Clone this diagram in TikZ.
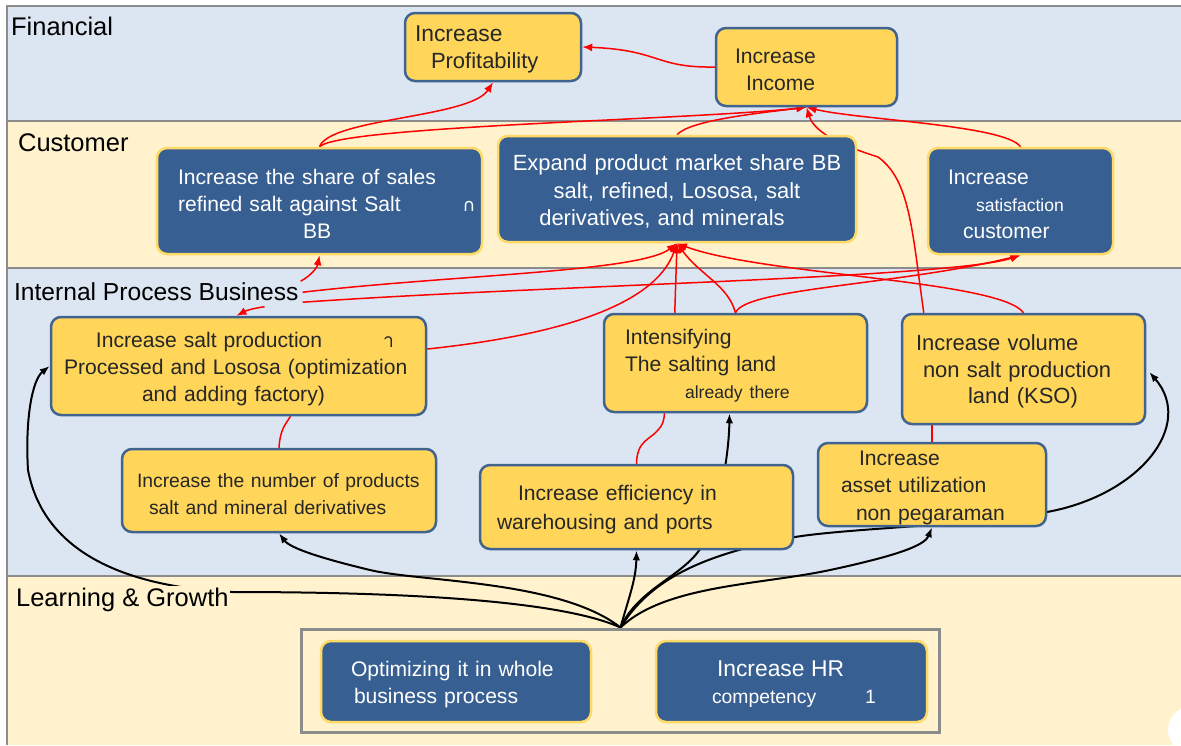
\documentclass[tikz,border=0pt]{standalone}
\usepackage{fontspec}
\setmainfont{Liberation Sans}
\newfontfamily\thaifont[Script=Thai]{Loma}
\newfontfamily\dvsans{DejaVu Sans}
\usetikzlibrary{arrows.meta,calc}
\definecolor{bandblue}{HTML}{DCE6F2}
\definecolor{bandyellow}{HTML}{FFF2CC}
\definecolor{goalyellow}{HTML}{FFD65A}
\definecolor{goalblue}{HTML}{375F92}
\definecolor{rimblue}{HTML}{41638F}
\definecolor{rimyellow}{HTML}{FFD966}
\definecolor{rulegray}{HTML}{8C8C8C}
\pgfdeclarelayer{bands}\pgfdeclarelayer{links}\pgfsetlayers{bands,links,main}
\newlength\pxunit \setlength\pxunit{0.2mm}
\newcommand\hx[1]{\hspace*{#1\pxunit}}
\tikzset{wh/.style 2 args={minimum width=#1*0.2mm,text width=#1*0.2mm,minimum height=#2*0.2mm},
ybox/.style={draw=rimblue,fill=goalyellow,line width=0.5mm,rounded corners=2mm,inner sep=0pt,align=left,text=black!85,font=\fontsize{12}{15.4}\selectfont,execute at begin node={\rule{0pt}{12pt}}},
bbox/.style={draw=rimyellow,fill=goalblue,line width=0.5mm,rounded corners=2mm,inner sep=0pt,align=left,text=white,font=\fontsize{12}{15.4}\selectfont,execute at begin node={\rule{0pt}{12pt}}},
lane/.style={anchor=base west,inner sep=1pt,font=\fontsize{14.5}{17}\selectfont},
rline/.style={draw=red,line width=0.3mm},
rlink/.style={rline,-{Latex[length=2mm,width=1.6mm]}},
blink/.style={draw=black,line width=0.4mm,-{Latex[length=2mm,width=1.5mm]}}}

\begin{document}
\begin{tikzpicture}[x=0.2mm,y=-0.2mm]
\useasboundingbox (0,0) rectangle (1181,745);
\begin{pgfonlayer}{bands}
\fill[bandblue] (7,6) rectangle (1181,121);
\fill[bandyellow] (7,121) rectangle (1181,268);
\fill[bandblue] (7,268) rectangle (1181,576);
\fill[bandyellow] (7,576) rectangle (1181,745);
\draw[rulegray,line width=0.4mm] (1181,6) -- (7,6) -- (7,745) (7,121) -- (1181,121) (7,268) -- (1181,268) (7,576) -- (1181,576);
\end{pgfonlayer}

\node[lane] (fin) at (9,35) {Financial};
\node[lane] (cus) at (16,151) {Customer};
\node[lane,fill=bandblue,font=\fontsize{14}{17}\selectfont] (ipb) at (12,300) {Internal Process Business};
\node[lane,fill=bandyellow] (lng) at (14,606) {Learning \& Growth};

\node[ybox,wh={176}{68},font=\fontsize{12.5}{15.4}\selectfont] (prof) at (493,47) {\hx{10}{\fontsize{13}{15}\selectfont Increase}\\\hx{26}Profitability};
\node[ybox,wh={181}{78}] (inc) at (806.5,67) {\hx{19}Increase\\\hx{30}Income};

\node[bbox,wh={325}{106}] (c1) at (319.5,201) {\hx{21}Increase the share of sales\\\hx{21}refined salt against Salt\rlap{\hspace{62\pxunit}{\dvsans\fontsize{10}{12}\selectfont ∩}}\\\hx{146}BB};
\node[bbox,wh={358}{106},align=center,font=\fontsize{12.5}{15.8}\selectfont] (c2) at (677,189) {Expand product market share BB\\salt, refined, Lososa, salt\hx{14}\\derivatives, and minerals\hx{30}};
\node[bbox,wh={185}{106}] (c3) at (1020.5,201) {\hx{20}Increase\\\hx{48}{\fontsize{10}{12}\selectfont satisfaction}\\\hx{35}customer};

\node[ybox,wh={375}{98}] (b1) at (238.5,366) {\hx{45}Increase salt production\rlap{\hspace{61\pxunit}{\thaifont\fontsize{11}{12}\selectfont า}}\\\hx{13}Processed and Lososa (optimization\\\hx{91}and adding factory)};
\node[ybox,wh={314}{83},font=\fontsize{11}{15.4}\selectfont] (b2) at (279,490.5) {\hx{15}Increase the number of products\\\hx{27}salt and mineral derivatives};
\node[ybox,wh={263}{98}] (b3) at (735.5,363) {\hx{21}Intensifying\\\hx{21}The salting land\\\hx{81}{\fontsize{10}{12}\selectfont already there}};
\node[ybox,wh={243}{110},font=\fontsize{12.5}{15.2}\selectfont] (b4) at (1023.5,369) {\hx{14}Increase volume\\\hx{21}non salt production\\\hx{66}land (KSO)};
\node[ybox,wh={313}{84},font=\fontsize{12}{16.4}\selectfont] (b5) at (636.5,507) {\hx{38}Increase efficiency in\\\hx{17}warehousing and ports};
\node[ybox,wh={228}{83},font=\fontsize{12}{15.8}\selectfont] (b6) at (932,484.5) {\hx{41}Increase\\\hx{23}asset utilization\\\hx{38}non pegaraman};

\node[draw=rulegray,line width=0.6mm,wh={627}{103}] (lg) at (620.5,680.5) {};
\node[bbox,wh={270}{81}] (l1) at (456,681.5) {\hx{30}Optimizing it in whole\\\hx{33}business process};
\node[bbox,wh={271}{81},font=\fontsize{11}{15.4}\selectfont] (l2) at (791.5,681.5) {\hx{61}{\fontsize{13}{15}\selectfont Increase HR}\\\hx{56}competency\rlap{\hspace{49\pxunit}1}};
\coordinate (src) at (lg.north);

\begin{pgfonlayer}{links}
\draw[rlink] (inc.west) .. controls (655,68) and (660,50) .. (prof.east);
\draw[rlink] (c1.north) .. controls (330,118) and (470,118) .. (prof.south);
\draw[rlink] (c1.north) .. controls (340,126) and (690,120) .. (inc.south);
\draw[rlink] (c2.north) .. controls (690,120) and (760,113) .. (inc.south);
\draw[rlink] (c3.north) .. controls (1005,125) and (860,120) .. (inc.south);
\draw[rlink] ($(b4.north west)+(23,0)$) .. controls (912,230) and (910,180) .. (878,157) .. controls (850,148) and (815,135) .. (inc.south);
\draw[rlink] ($(ipb.east)+(0,-10)$) to[bend right=25] (c1.south);
\draw[rlink] ($(b1.north)+(26,-9)$) to[bend right=10] ($(b1.north)+(-2,0)$);
\draw[rlink] ($(ipb.east)+(2,1)$) .. controls (450,275) and (640,272) .. (c2.south);
\draw[rlink] ($(ipb.east)+(2,11)$) .. controls (550,285) and (950,278) .. (c3.south);
\draw[rlink] ($(b1.east)+(0,-17)$) .. controls (560,335) and (655,305) .. (c2.south);
\draw[rlink] ($(b3.north west)+(72,0)$) -- (c2.south);
\draw[rlink] (b3.north) .. controls (728,285) and (700,275) .. (c2.south);
\draw[rlink] (b3.north) .. controls (745,288) and (900,285) .. (c3.south);
\draw[rlink] (b4.north) .. controls (1000,280) and (760,275) .. (c2.south);
\draw[rline] (b2.north) .. controls (280,430) and (285,425) .. ($(b1.south)+(52,0)$);
\draw[rline] (b5.north) .. controls (637,440) and (650,440) .. (658,430) .. controls (663,425) and (664,420) .. ($(b3.south)+(-71,0)$);
\draw[rline] (b6.north) -- ($(b4.south)+(-91.5,0)$);
\draw[blink] (src) .. controls (628,600) and (636,580) .. (b5.south);
\draw[blink] (src) .. controls (640,585) and (690,575) .. (705,540) .. controls (722,500) and (729,450) .. ($(b3.south)+(-6,0)$);
\draw[blink] (src) .. controls (650,580) and (700,555) .. (795,537) .. controls (850,528) and (980,525) .. (1047,512) .. controls (1140,495) and (1195,425) .. ($(b4.east)+(3,3)$);
\draw[blink] (src) .. controls (665,585) and (760,585) .. (830,570) .. controls (900,555) and (925,545) .. (b6.south);
\draw[blink] (src) .. controls (560,580) and (420,582) .. (370,570) .. controls (320,558) and (290,548) .. (b2.south);
\draw[blink] (src) .. controls (560,600) and (400,592) .. (233,592) .. controls (140,588) and (45,560) .. (28,470) .. controls (25,420) and (32,380) .. (b1.west);
\end{pgfonlayer}
\fill[white] (1192,730) circle (24);
\end{tikzpicture}
\end{document}
